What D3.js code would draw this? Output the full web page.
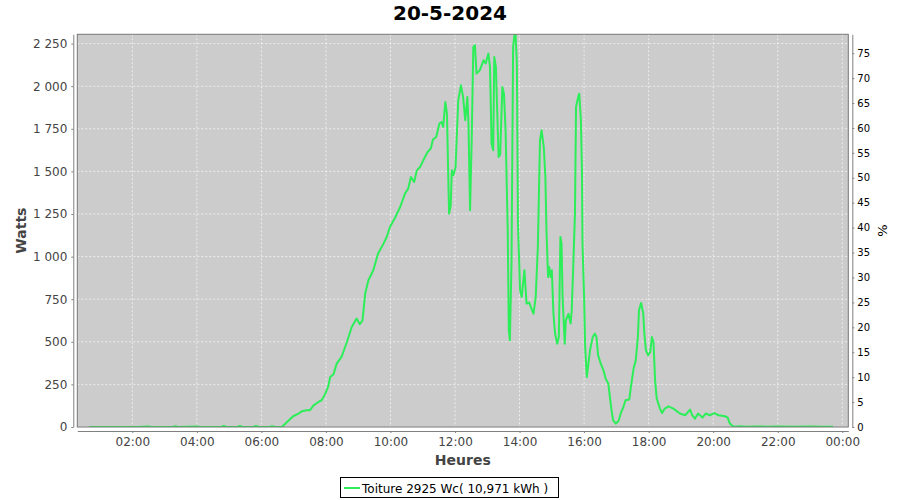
<!DOCTYPE html>
<html>
<head>
<meta charset="utf-8">
<script src="https://cdn.jsdelivr.net/npm/d3@7/dist/d3.min.js"></script>
<style>
  html, body { margin: 0; padding: 0; background: #fff; }
  svg { display: block; font-family: "DejaVu Sans", sans-serif; }
</style>
</head>
<body>
<svg id="chart" width="900" height="500"></svg>
<script>
const chartTitle = "20-5-2024";
const seriesName = "Toiture 2925 Wc( 10,971 kWh )";
const peakPower = 2925;
const xTickLabels = ["02:00","04:00","06:00","08:00","10:00","12:00","14:00","16:00","18:00","20:00","22:00","00:00"];
const yTicks = [0,250,500,750,1000,1250,1500,1750,2000,2250];
const pctTicks = [0,5,10,15,20,25,30,35,40,45,50,55,60,65,70,75];

const times = [
"00:40","01:10","01:40","02:10","02:30","02:35","03:15","03:20","03:25","04:00","04:05","04:45","04:50","04:55",
"05:15","05:20","05:25","05:45","05:50","05:55","06:15","06:20","06:25","06:38",
"06:59","07:09","07:15","07:24","07:30","07:37","07:46","07:52","07:58","08:04","08:08","08:14","08:20","08:29",
"08:39","08:48","08:57","09:03","09:08","09:13","09:19","09:28","09:37","09:47","09:53","09:59","10:08","10:18",
"10:27","10:33","10:38","10:44","10:49","10:55","11:01","11:09","11:15","11:19","11:25","11:31","11:35","11:38",
"11:42","11:45","11:48","11:49","11:52","11:54","11:57","12:01","12:06","12:11","12:15","12:19","12:23","12:25",
"12:28","12:31","12:34","12:37","12:40","12:46","12:53","12:57","13:02","13:05","13:08","13:11","13:13","13:16",
"13:21","13:24","13:28","13:31","13:34","13:38","13:40","13:42","13:45","13:48","13:52","13:55","13:57","14:01",
"14:04","14:09","14:13","14:18","14:21","14:26","14:30","14:34","14:38","14:41","14:45","14:48","14:50","14:53",
"14:55","14:58","15:00","15:03","15:06","15:10","15:13","15:16","15:18","15:20","15:24","15:26","15:31","15:35",
"15:37","15:40","15:43","15:45","15:49","15:51","15:54","15:56","15:57","16:00","16:02","16:05","16:08","16:11",
"16:16","16:20","16:23","16:26","16:31","16:36","16:40","16:45","16:48","16:51","16:54","16:59","17:04","17:09",
"17:13","17:17","17:24","17:27","17:32","17:36","17:40","17:42","17:46","17:50","17:52","17:55","17:59","18:03",
"18:06","18:09","18:12","18:15","18:21","18:25","18:30","18:37","18:46","18:58","19:08","19:17","19:21","19:26",
"19:32","19:40","19:46","19:54","20:02","20:10","20:22","20:27","20:31","20:36","20:40","20:50","21:00","21:20",
"21:40","22:00","22:30","23:00","23:20","23:43"
];
const watts = [
0,0,0,0,3,0,0,4,0,3,0,0,6,0,
0,6,0,0,6,0,0,5,0,0,
63,78,92,98,98,127,147,157,190,235,293,309,372,411,
499,587,636,603,626,783,861,920,1018,1076,1115,1174,1225,1291,
1370,1399,1467,1438,1506,1526,1565,1614,1634,1687,1702,1781,1790,1761,
1907,1839,1389,1252,1300,1506,1477,1526,1917,2005,1937,1800,1937,1781,
1272,1683,2230,2240,2074,2093,2152,2133,2191,2113,1663,1624,2171,2113,
1585,1600,1995,1956,1741,1154,567,509,959,2230,2340,2133,1194,802,
763,920,724,730,704,665,763,1056,1683,1741,1643,1467,1154,880,
939,880,920,665,548,489,528,1115,1076,763,489,626,665,607,
685,959,1252,1878,1937,1956,1800,1506,1076,763,469,293,372,450,
528,548,528,421,372,333,284,255,176,98,39,20,35,88,
117,157,161,235,343,391,528,685,728,665,548,450,421,440,
528,499,274,167,108,82,108,121,108,79,69,102,69,49,
79,55,79,69,82,69,63,55,20,6,2,4,2,3,
2,3,2,3,2,2
];

const toMin = s => { const [h, m] = s.split(":").map(Number); return h * 60 + m; };
const data = times.map((t, i) => ({ t: toMin(t), w: watts[i] }));

const svg = d3.select("#chart");
const plot = { left: 77.3, top: 34.3, right: 848.3, bottom: 427 };
const ink = "#444444";

const x = d3.scaleLinear().domain([17.74, 1451.2]).range([plot.left, plot.right]);
const y = d3.scaleLinear().domain([0, 2304.5]).range([plot.bottom, plot.top]);
const yPct = d3.scaleLinear().domain([0, 2304.5 / peakPower * 100]).range([plot.bottom, plot.top]);

svg.append("rect").attr("width", 900).attr("height", 500).attr("fill", "#fff");

// title
svg.append("text").attr("x", 450).attr("y", 20).attr("text-anchor", "middle")
  .attr("font-size", 20).attr("font-weight", "bold").attr("fill", "#000").text(chartTitle);

// plot background
svg.append("rect").attr("x", plot.left).attr("y", plot.top)
  .attr("width", plot.right - plot.left).attr("height", plot.bottom - plot.top)
  .attr("fill", "#cccccc");

const xTickVals = xTickLabels.map((l, i) => (i + 1) * 120);

// grid
const grid = svg.append("g").attr("stroke", "#ffffff").attr("stroke-width", 0.8)
  .attr("stroke-dasharray", "2,2").attr("opacity", 0.85);
grid.selectAll("line.v").data(xTickVals).join("line").attr("class", "v")
  .attr("x1", d => x(d)).attr("x2", d => x(d)).attr("y1", plot.top).attr("y2", plot.bottom);
grid.selectAll("line.h").data(yTicks).join("line").attr("class", "h")
  .attr("x1", plot.left).attr("x2", plot.right).attr("y1", d => y(d)).attr("y2", d => y(d));

// line
svg.append("clipPath").attr("id", "clip").append("rect")
  .attr("x", plot.left).attr("y", plot.top)
  .attr("width", plot.right - plot.left).attr("height", plot.bottom - plot.top);
svg.append("path").datum(data).attr("clip-path", "url(#clip)")
  .attr("fill", "none").attr("stroke", "#2cee58").attr("stroke-width", 2)
  .attr("stroke-linejoin", "round")
  .attr("d", d3.line().x(d => x(d.t)).y(d => y(d.w)));

// plot border
svg.append("rect").attr("x", plot.left).attr("y", plot.top)
  .attr("width", plot.right - plot.left).attr("height", plot.bottom - plot.top)
  .attr("fill", "none").attr("stroke", "#777").attr("stroke-width", 1);

const fmtW = v => v >= 1000 ? Math.floor(v / 1000) + "\u00a0" + String(v % 1000).padStart(3, "0") : String(v);

function styleAxis(g, color, size) {
  g.select(".domain").attr("stroke", "#808080").attr("stroke-width", 1);
  g.selectAll(".tick line").attr("stroke", "#808080");
  g.selectAll(".tick text").attr("fill", color).attr("font-size", size)
    .attr("font-family", "DejaVu Sans");
}

// left axis
const gl = svg.append("g").attr("transform", `translate(${plot.left - 4},0)`)
  .call(d3.axisLeft(y).tickValues(yTicks).tickFormat(fmtW).tickSizeInner(2).tickSizeOuter(0).tickPadding(4));
styleAxis(gl, ink, 12);

// bottom axis
const gb = svg.append("g").attr("transform", `translate(0,${plot.bottom + 4})`)
  .call(d3.axisBottom(x).tickValues(xTickVals).tickFormat((d, i) => xTickLabels[i]).tickSizeInner(2).tickSizeOuter(0).tickPadding(4));
styleAxis(gb, ink, 12);

// right axis
const gr = svg.append("g").attr("transform", `translate(${plot.right + 4},0)`)
  .call(d3.axisRight(yPct).tickValues(pctTicks).tickFormat(d3.format("d")).tickSizeInner(2).tickSizeOuter(0).tickPadding(3));
styleAxis(gr, "#000", 10);

// axis labels
svg.append("text").attr("transform", `translate(26,${(plot.top + plot.bottom) / 2}) rotate(-90)`)
  .attr("text-anchor", "middle").attr("font-size", 14).attr("font-weight", "bold").attr("fill", ink).text("Watts");
svg.append("text").attr("x", (plot.left + plot.right) / 2).attr("y", 465)
  .attr("text-anchor", "middle").attr("font-size", 14).attr("font-weight", "bold").attr("fill", ink).text("Heures");
svg.append("text").attr("transform", `translate(887,${(plot.top + plot.bottom) / 2}) rotate(-90)`)
  .attr("text-anchor", "middle").attr("font-size", 13).attr("fill", "#000").text("%");

// legend
const lg = svg.append("g");
lg.append("rect").attr("x", 340.5).attr("y", 477.5).attr("width", 218).attr("height", 20)
  .attr("fill", "#fff").attr("stroke", "#000").attr("stroke-width", 1);
lg.append("line").attr("x1", 344).attr("x2", 360).attr("y1", 488).attr("y2", 488)
  .attr("stroke", "#2cee58").attr("stroke-width", 2);
lg.append("text").attr("x", 362).attr("y", 492.5).attr("font-size", 12).attr("fill", "#000").text(seriesName);
</script>
</body>
</html>
